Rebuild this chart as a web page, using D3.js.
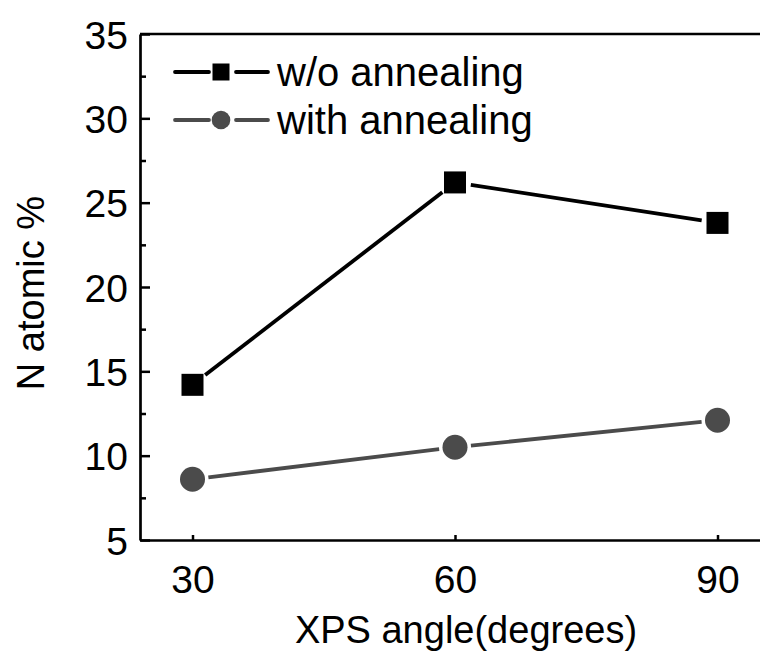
<!DOCTYPE html>
<html>
<head>
<meta charset="utf-8">
<script src="https://cdn.jsdelivr.net/npm/d3@7"></script>
<style>
  body { margin: 0; background: #fff; }
  svg { display: block; font-family: "Liberation Sans", Arial, sans-serif; }
</style>
</head>
<body>
<div id="chart"></div>
<script>
let w = 760;
let h = 651;

// data
let angles = [30, 60, 90];
let withoutAnnealing = [14.2, 26.2, 23.8];
let withAnnealing = [8.6, 10.5, 12.1];
let yMajorTicks = [5, 10, 15, 20, 25, 30, 35];
let yMinorTicks = [7.5, 12.5, 17.5, 22.5, 27.5, 32.5];
let seriesNames = ["w/o annealing", "with annealing"];

let plotLeft = 140, plotTop = 34, plotBottom = 540;

let x = d3.scaleLinear().domain([24, 96]).range([plotLeft, plotLeft + 72 * 8.75]);
let y = d3.scaleLinear().domain([5, 35]).range([plotBottom, plotTop]);

let svg = d3.select("#chart").append("svg")
  .attr("width", w)
  .attr("height", h);

// y axis, ticks point inward
let yAxis = svg.append("g")
  .attr("transform", `translate(${plotLeft},0)`)
  .call(d3.axisLeft(y).tickValues(yMajorTicks).tickSizeInner(-10).tickSizeOuter(0).tickPadding(12).tickFormat(d3.format("d")));
svg.append("g")
  .attr("transform", `translate(${plotLeft},0)`)
  .call(d3.axisLeft(y).tickValues(yMinorTicks).tickSizeInner(-6).tickSizeOuter(0).tickFormat(""))
  .call(g => g.select(".domain").remove());

let xAxis = svg.append("g")
  .attr("transform", `translate(0,${plotBottom})`)
  .call(d3.axisBottom(x).tickValues(angles).tickSizeInner(-5).tickSizeOuter(0).tickPadding(25));

svg.selectAll(".tick line").attr("stroke", "#000").attr("stroke-width", 2.5);
svg.selectAll(".domain").attr("stroke", "#000").attr("stroke-width", 2.7);
svg.selectAll(".tick text").attr("fill", "#000").attr("font-size", 39).attr("font-family", "Liberation Sans, Arial, sans-serif");
yAxis.selectAll(".tick text").attr("dy", "0.36em");
xAxis.selectAll(".tick text").attr("dy", "0.71em");

// top border line
svg.append("line")
  .attr("x1", plotLeft).attr("x2", w)
  .attr("y1", plotTop).attr("y2", plotTop)
  .attr("stroke", "#000").attr("stroke-width", 2.7);

// axis titles
svg.append("text")
  .attr("x", 466).attr("y", 643)
  .attr("text-anchor", "middle")
  .attr("font-size", 38)
  .text("XPS angle(degrees)");

svg.append("text")
  .attr("transform", "translate(44,293) rotate(-90)")
  .attr("text-anchor", "middle")
  .attr("font-size", 38)
  .text("N atomic %");

// lines with gaps next to the markers
function gappedSegments(vals, gap) {
  let segs = [];
  for (let i = 0; i < vals.length - 1; i++) {
    let x1 = x(angles[i]), y1 = y(vals[i]);
    let x2 = x(angles[i + 1]), y2 = y(vals[i + 1]);
    let len = Math.hypot(x2 - x1, y2 - y1);
    let ux = (x2 - x1) / len, uy = (y2 - y1) / len;
    segs.push({ x1: x1 + ux * gap, y1: y1 + uy * gap, x2: x2 - ux * gap, y2: y2 - uy * gap });
  }
  return segs;
}

let black = "#000";
let grey = "#4b4b4b";

let plot = svg.append("g");

plot.selectAll(".seg1").data(gappedSegments(withoutAnnealing, 16)).enter().append("line")
  .attr("x1", d => d.x1).attr("y1", d => d.y1)
  .attr("x2", d => d.x2).attr("y2", d => d.y2)
  .attr("stroke", black).attr("stroke-width", 3.8);

plot.selectAll(".seg2").data(gappedSegments(withAnnealing, 16)).enter().append("line")
  .attr("x1", d => d.x1).attr("y1", d => d.y1)
  .attr("x2", d => d.x2).attr("y2", d => d.y2)
  .attr("stroke", grey).attr("stroke-width", 3.8);

plot.selectAll(".sq").data(withoutAnnealing).enter().append("rect")
  .attr("x", (d, i) => x(angles[i]) - 11)
  .attr("y", d => y(d) - 11)
  .attr("width", 22).attr("height", 22)
  .attr("fill", black);

plot.selectAll(".ci").data(withAnnealing).enter().append("circle")
  .attr("cx", (d, i) => x(angles[i]))
  .attr("cy", d => y(d))
  .attr("r", 12.5)
  .attr("fill", grey);

// legend
let legend = svg.append("g");
let rows = [
  { name: seriesNames[0], color: black, shape: "square", cy: 72 },
  { name: seriesNames[1], color: grey, shape: "circle", cy: 120 }
];
rows.forEach(r => {
  legend.append("line").attr("x1", 175).attr("x2", 209).attr("y1", r.cy).attr("y2", r.cy)
    .attr("stroke", r.color).attr("stroke-width", 3.8).attr("stroke-linecap", "round");
  legend.append("line").attr("x1", 236).attr("x2", 268).attr("y1", r.cy).attr("y2", r.cy)
    .attr("stroke", r.color).attr("stroke-width", 3.8).attr("stroke-linecap", "round");
  if (r.shape === "square") {
    legend.append("rect").attr("x", 221 - 8.5).attr("y", r.cy - 8.5).attr("width", 17).attr("height", 17).attr("fill", r.color);
  } else {
    legend.append("circle").attr("cx", 221).attr("cy", r.cy).attr("r", 9.3).attr("fill", r.color);
  }
  legend.append("text").attr("x", 277).attr("y", r.cy + 14)
    .attr("font-size", 40)
    .text(r.name);
});
</script>
</body>
</html>
